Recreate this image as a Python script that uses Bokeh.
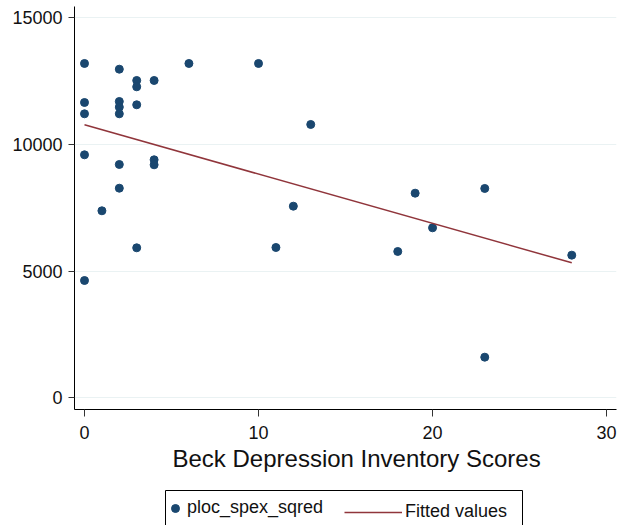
from bokeh.plotting import figure
from bokeh.layouts import column
from bokeh.models import Legend, LegendItem, BoxAnnotation, Range1d, FixedTicker, Title
from bokeh.embed import file_html
from bokeh.resources import INLINE

# Data
bdi_scores = [0, 0, 0, 0, 0,
              1,
              2, 2, 2, 2, 2, 2,
              3, 3, 3, 3,
              4, 4, 4,
              6, 10, 11, 12, 13, 18, 19, 20, 23, 23, 28]
ploc_spex_sqred = [13197, 11657, 11210, 9592, 4630,
                   7382,
                   12972, 11697, 11474, 11210, 9210, 8274,
                   12526, 12276, 11566, 5921,
                   12526, 9395, 9197,
                   13197, 13197, 5933, 7564, 10789, 5775, 8077, 6710, 8263, 1603, 5630]
fitted_x = [0, 28]
fitted_y = [10777, 5329]

x_ticks = [0, 10, 20, 30]
y_ticks = [0, 5000, 10000, 15000]
series_names = ["ploc_spex_sqred", "Fitted values"]
x_title = "Beck Depression Inventory Scores"

FONT = "Liberation Sans"
DOT = "#1a476f"
LINE = "#90353b"
TXT = "#111111"

MAIN_H = 480
p = figure(width=620, height=MAIN_H, output_backend="svg", toolbar_location=None,
           x_range=Range1d(-0.575, 30.57), y_range=Range1d(-462, 15446),
           min_border_left=74, min_border_right=4, min_border_top=6,
           min_border_bottom=MAIN_H - 409)
p.outline_line_color = None
p.background_fill_color = "white"
p.border_fill_color = "white"

sc = p.scatter(bdi_scores, ploc_spex_sqred, size=8, fill_color=DOT, line_color=DOT)
ln = p.line(fitted_x, fitted_y, line_color=LINE, line_width=1.5)

p.xgrid.visible = False
p.ygrid.grid_line_color = "#eaf2f3"
p.ygrid.grid_line_width = 1
p.ygrid.ticker = FixedTicker(ticks=y_ticks)

p.xaxis.ticker = FixedTicker(ticks=x_ticks)
p.yaxis.ticker = FixedTicker(ticks=y_ticks)
for ax in (p.xaxis[0], p.yaxis[0]):
    ax.axis_line_color = "black"
    ax.axis_line_width = 1
    ax.major_tick_line_color = "#333333"
    ax.minor_tick_line_color = None
    ax.major_tick_in = 0
    ax.major_label_text_font = FONT
    ax.major_label_text_font_size = "18px"
    ax.major_label_text_color = TXT
p.yaxis.major_tick_out = 6
p.yaxis.major_label_standoff = 6
p.yaxis.major_label_orientation = "horizontal"
p.xaxis.major_tick_out = 7
p.xaxis.major_label_standoff = 9

p.add_layout(Title(text=x_title, align="left", offset=172 - 74,
                   text_font=FONT, text_font_size="24px", text_font_style="normal",
                   text_color=TXT, standoff=3), "below")

# Legend strip below the plot; its frame is aligned with the main frame (x: 74..616 px)
LEG_H = 525 - MAIN_H
lf = figure(width=620, height=LEG_H, output_backend="svg", toolbar_location=None,
            x_range=Range1d(74, 616), y_range=Range1d(0, LEG_H),
            min_border_left=74, min_border_right=4,
            min_border_top=0, min_border_bottom=0)
lf.axis.visible = False
lf.grid.visible = False
lf.outline_line_color = None
lf.background_fill_color = "white"
lf.border_fill_color = "white"

# key renderers: carry the series styles, hidden in the strip itself
sc_key = lf.scatter(bdi_scores, ploc_spex_sqred, size=8, fill_color=DOT, line_color=DOT, visible=False)
ln_key = lf.line(fitted_x, fitted_y, line_color=LINE, line_width=1.5, visible=False)

top_y = LEG_H - (490 - MAIN_H)
box = BoxAnnotation(left=165, right=522, top=top_y, bottom=-30,
                    fill_alpha=0, line_color="black", line_width=1, line_alpha=1)
lf.add_layout(box)

common = dict(orientation="horizontal", glyph_height=20, label_height=20,
              padding=0, margin=0, border_line_color=None, background_fill_alpha=0,
              inactive_fill_alpha=0,
              label_text_font=FONT, label_text_font_size="18px", label_text_color=TXT)
leg1 = Legend(items=[LegendItem(label=series_names[0], renderers=[sc_key])],
              location=(165 - 74, LEG_H - (518 - MAIN_H)),
              glyph_width=20, label_standoff=2, **common)
leg2 = Legend(items=[LegendItem(label=series_names[1], renderers=[ln_key])],
              location=(344 - 74, LEG_H - (522 - MAIN_H)),
              glyph_width=58, label_standoff=3, **common)
lf.add_layout(leg1)
lf.add_layout(leg2)

layout = column(p, lf, spacing=0)
open("out.html", "w").write(file_html(layout, INLINE))
